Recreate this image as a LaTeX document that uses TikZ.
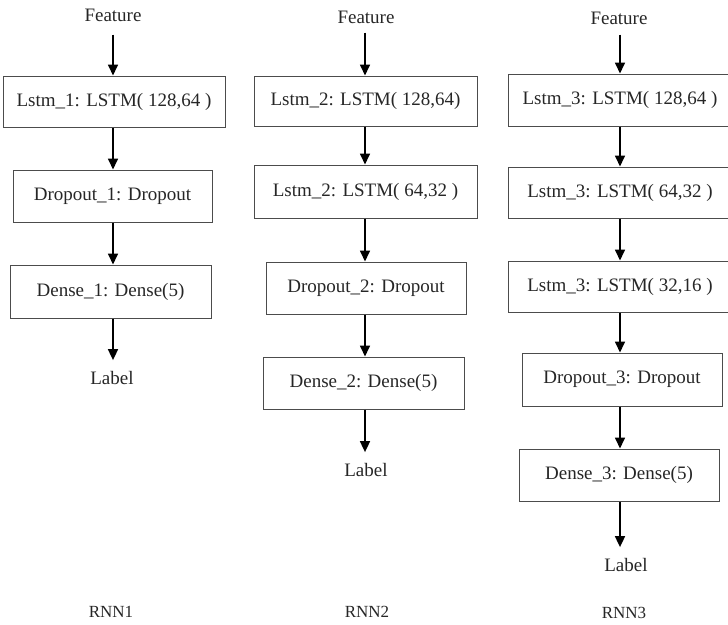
\documentclass[tikz,border=0pt]{standalone}
\usepackage{fontspec}
\setmainfont{Liberation Serif}
\usetikzlibrary{arrows.meta}
\begin{document}
\begin{tikzpicture}[x=1pt,y=-1pt,
  every node/.style={font=\fontsize{19}{22}\selectfont, text=black!85},
  layerbox/.style={draw=black!70, line width=1pt, inner sep=0pt},
  plain/.style={inner sep=0pt},
  caption/.style={inner sep=0pt, font=\fontsize{17}{20}\selectfont},
  flow/.style={line width=1.7pt, -{Triangle[length=11pt,width=10pt]}},
]
\useasboundingbox (0,0) rectangle (728,624);
% column axes
\coordinate (c1) at (113,0);
\coordinate (c2) at (365,0);
\coordinate (c3) at (620,0);

% ---------- RNN1 ----------
\node[plain] (f1) at (113,15) {Feature};
\node[layerbox, minimum width=222pt, minimum height=51pt] (l1a) at (114,101.5) {Lstm\_1: LSTM( 128,64 )};
\node[layerbox, minimum width=199pt, minimum height=52pt] (d1) at (112.5,196) {Dropout\_1: Dropout};
\node[layerbox, minimum width=201pt, minimum height=53pt] (e1) at (110.5,291.5) {Dense\_1: Dense(5)};
\node[plain] (o1) at (112,378) {Label};
\node[caption] (r1) at (111,612) {RNN1};

\draw[flow, shorten <=13pt] (f1.south -| c1) -- (l1a.north -| c1);
\draw[flow] (l1a.south -| c1) -- (d1.north -| c1);
\draw[flow] (d1.south -| c1) -- (e1.north -| c1);
\draw[flow, shorten >=11pt] (e1.south -| c1) -- (o1.north -| c1);

% ---------- RNN2 ----------
\node[plain] (f2) at (366,17) {Feature};
\node[layerbox, minimum width=223pt, minimum height=50pt] (l2a) at (365.5,101) {Lstm\_2: LSTM( 128,64)};
\node[layerbox, minimum width=223pt, minimum height=53pt] (l2b) at (365.5,191.5) {Lstm\_2: LSTM( 64,32 )};
\node[layerbox, minimum width=200pt, minimum height=52pt] (d2) at (366,288) {Dropout\_2: Dropout};
\node[layerbox, minimum width=201pt, minimum height=52pt] (e2) at (363.5,383) {Dense\_2: Dense(5)};
\node[plain] (o2) at (366,470) {Label};
\node[caption] (r2) at (367,612) {RNN2};

\draw[flow, shorten <=9pt] (f2.south -| c2) -- (l2a.north -| c2);
\draw[flow] (l2a.south -| c2) -- (l2b.north -| c2);
\draw[flow] (l2b.south -| c2) -- (d2.north -| c2);
\draw[flow] (d2.south -| c2) -- (e2.north -| c2);
\draw[flow, shorten >=11pt] (e2.south -| c2) -- (o2.north -| c2);

% ---------- RNN3 ----------
\node[plain] (f3) at (619,18) {Feature};
\node[layerbox, minimum width=224pt, minimum height=52pt] (l3a) at (620,100) {Lstm\_3: LSTM( 128,64 )};
\node[layerbox, minimum width=224pt, minimum height=51pt] (l3b) at (620,192.5) {Lstm\_3: LSTM( 64,32 )};
\node[layerbox, minimum width=224pt, minimum height=51pt] (l3c) at (620,286.5) {Lstm\_3: LSTM( 32,16 )};
\node[layerbox, minimum width=200pt, minimum height=53pt] (d3) at (622,379.5) {Dropout\_3: Dropout};
\node[layerbox, minimum width=200pt, minimum height=52pt] (e3) at (619,475) {Dense\_3: Dense(5)};
\node[plain] (o3) at (626,565) {Label};
\node[caption] (r3) at (624,613) {RNN3};

\draw[flow, shorten <=10pt] (f3.south -| c3) -- (l3a.north -| c3);
\draw[flow] (l3a.south -| c3) -- (l3b.north -| c3);
\draw[flow] (l3b.south -| c3) -- (l3c.north -| c3);
\draw[flow] (l3c.south -| c3) -- (d3.north -| c3);
\draw[flow] (d3.south -| c3) -- (e3.north -| c3);
\draw[flow, shorten >=11pt] (e3.south -| c3) -- (o3.north -| c3);
\end{tikzpicture}
\end{document}
